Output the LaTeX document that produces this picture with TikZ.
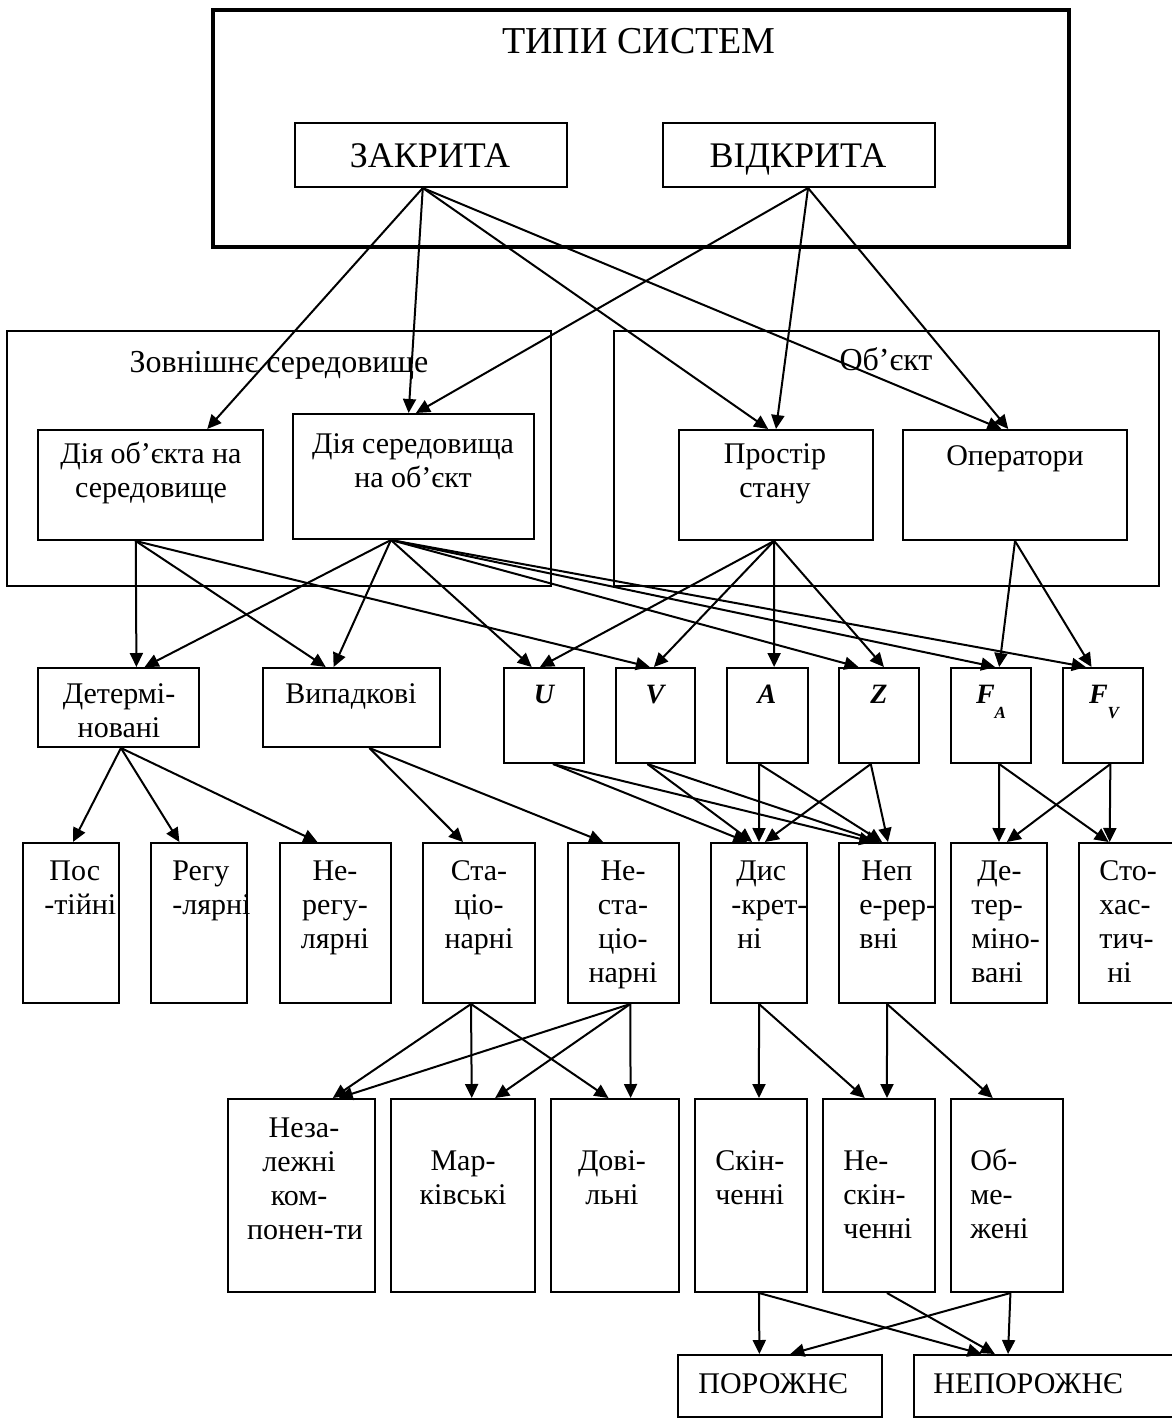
\documentclass[tikz,border=0pt]{standalone}
\usepackage{fontspec}
\setmainfont{Liberation Serif}
\usetikzlibrary{arrows.meta,calc,fit}
\newcommand\tctr[1]{\begin{tabular}[t]{@{}c@{}}#1\end{tabular}}
\newcommand\tlft[1]{\begin{tabular}[t]{@{}l@{}}#1\end{tabular}}
\newcommand\bx[6][]{\path (#3,#4) coordinate (#2-a) (#5,#6) coordinate (#2-b); \node[box,#1,fit=(#2-a)(#2-b)] (#2) {};}
\newcommand\conn[4]{\draw[arr] ($(#1.south west)!#2!(#1.south east)$) -- ($(#3.north west)!#4!(#3.north east)$);}
\begin{document}
\begin{tikzpicture}[x=0.5pt,y=-0.5pt,
 box/.style={draw,line width=1pt,inner sep=0pt},
 arr/.style={line width=1pt,-{Triangle[length=7pt,width=6.5pt]}},
 txt/.style={inner sep=0pt,font=\fontsize{15}{17}\selectfont},
 big/.style={inner sep=0pt,font=\fontsize{19}{22}\selectfont},
 varsym/.style={inner sep=0pt,font=\fontsize{14}{16}\selectfont\bfseries\itshape}]
\useasboundingbox (0,0) rectangle (1172,1419);
% boxes
\bx[line width=2.2pt]{outer}{213}{10}{1069}{247}
\bx{zak}{295}{123}{567}{187}
\bx{vid}{663}{123}{935}{187}
\bx{env}{7}{331}{551}{586}
\bx{obj}{614}{331}{1159}{586}
\bx{dob}{38}{430}{263}{540}
\bx{dse}{293}{414}{534}{539}
\bx{pst}{679}{430}{873}{540}
\bx{opr}{903}{430}{1127}{540}
\bx{det}{38}{668}{199}{747}
\bx{vyp}{263}{668}{440}{747}
\bx{U}{504}{668}{584}{763}
\bx{V}{616}{668}{695}{763}
\bx{A}{727}{668}{808}{763}
\bx{Z}{839}{668}{919}{763}
\bx{FA}{951}{668}{1031}{763}
\bx{FV}{1063}{668}{1143}{763}
\bx{pos}{23}{843}{119}{1003}
\bx{reg}{151}{843}{247}{1003}
\bx{nereg}{280}{843}{391}{1003}
\bx{stac}{423}{843}{535}{1003}
\bx{nestac}{568}{843}{679}{1003}
\bx{dys}{711}{843}{807}{1003}
\bx{nep}{839}{843}{935}{1003}
\bx{dter}{951}{843}{1047}{1003}
\bx{stoh}{1079}{843}{1176}{1003}
\bx{nez}{228}{1099}{375}{1292}
\bx{mark}{391}{1099}{535}{1292}
\bx{dov}{551}{1099}{679}{1292}
\bx{skin}{695}{1099}{807}{1292}
\bx{neskin}{823}{1099}{935}{1292}
\bx{obm}{951}{1099}{1063}{1292}
\bx{por}{678}{1355}{882}{1417}
\bx{nepor}{914}{1355}{1176}{1417}
% texts
\node[big,anchor=base] (t-outer) at (639,53) {ТИПИ СИСТЕМ};
\node[big,anchor=base,font=\fontsize{18}{21}\selectfont] (t-zak) at (430,167) {ЗАКРИТА};
\node[big,anchor=base,font=\fontsize{18}{21}\selectfont] (t-vid) at (798,167) {ВІДКРИТА};
\node[txt,anchor=base,font=\fontsize{16}{18}\selectfont] (t-env) at (279,372) {Зовнішнє середовище};
\node[txt,anchor=base,font=\fontsize{16}{18}\selectfont] (t-obj) at (886,370) {Об’єкт};
\node[txt,anchor=base] (t-dob) at (151,463) {\tctr{Дія об’єкта на\\середовище}};
\node[txt,anchor=base] (t-dse) at (413,453) {\tctr{Дія середовища\\на об’єкт}};
\node[txt,anchor=base] (t-pst) at (775,463) {\tctr{Простір\\стану}};
\node[txt,anchor=base] (t-opr) at (1015,465) {Оператори};
\node[txt,anchor=base] (t-det) at (119,703) {\tctr{Детермі-\\новані}};
\node[txt,anchor=base] (t-vyp) at (351,703) {Випадкові};
\node[varsym,anchor=base] (t-U) at (544,703) {U};
\node[varsym,anchor=base] (t-V) at (655,703) {V};
\node[varsym,anchor=base] (t-A) at (767,703) {A};
\node[varsym,anchor=base] (t-Z) at (879,703) {Z};
\node[varsym,anchor=base] (t-FA) at (991,703) {F\raisebox{-1.2ex}{\fontsize{8.5}{9}\selectfont A}};
\node[varsym,anchor=base] (t-FV) at (1104,703) {F\raisebox{-1.2ex}{\fontsize{8.5}{9}\selectfont V}};
\node[txt,anchor=base west] (t-pos) at (44,880) {\tlft{\,Пос\\-тійні}};
\node[txt,anchor=base west] (t-reg) at (172,880) {\tlft{Регу\\-лярні}};
\node[txt,anchor=base] (t-nereg) at (335,880) {\tctr{Не-\\регу-\\лярні}};
\node[txt,anchor=base] (t-stac) at (479,880) {\tctr{Ста-\\ціо-\\нарні}};
\node[txt,anchor=base] (t-nestac) at (623,880) {\tctr{Не-\\ста-\\ціо-\\нарні}};
\node[txt,anchor=base west] (t-dys) at (731,880) {\tlft{\,Дис\\-крет-\\\hspace{3pt}ні}};
\node[txt,anchor=base west] (t-nep) at (859,880) {\tlft{\hspace{1pt}Неп\\е-рер-\\вні}};
\node[txt,anchor=base west] (t-dter) at (971,880) {\tlft{\hspace{3pt}Де-\\тер-\\міно-\\вані}};
\node[txt,anchor=base west] (t-stoh) at (1099,880) {\tlft{Сто-\\хас-\\тич-\\\hspace{4pt}ні}};
\node[txt,anchor=base] (t-nez) at (299,1137) {\tctr{\hspace{5pt}Неза-\\лежні\\ком-\\\hspace{6pt}понен-ти}};
\node[txt,anchor=base] (t-mark) at (463,1170) {\tctr{Мар-\\ківські}};
\node[txt,anchor=base] (t-dov) at (612,1170) {\tctr{Дові-\\льні}};
\node[txt,anchor=base west] (t-skin) at (715,1170) {\tlft{Скін-\\ченні}};
\node[txt,anchor=base west] (t-neskin) at (843,1170) {\tlft{Не-\\скін-\\ченні}};
\node[txt,anchor=base west] (t-obm) at (970,1170) {\tlft{Об-\\ме-\\жені}};
\node[txt,anchor=base west] (t-por) at (698,1393) {ПОРОЖНЄ};
\node[txt,anchor=base west] (t-nepor) at (933,1393) {НЕПОРОЖНЄ};
% connectors: top level
\conn{zak}{0.47}{dob}{0.75}
\conn{zak}{0.47}{dse}{0.48}
\conn{zak}{0.47}{pst}{0.46}
\conn{zak}{0.47}{opr}{0.44}
\conn{vid}{0.533}{dse}{0.51}
\conn{vid}{0.533}{pst}{0.5}
\conn{vid}{0.533}{opr}{0.47}
% second level
\conn{dob}{0.435}{det}{0.61}
\conn{dob}{0.435}{vyp}{0.356}
\conn{dob}{0.435}{V}{0.43}
\conn{dse}{0.407}{det}{0.66}
\conn{dse}{0.407}{vyp}{0.40}
\conn{dse}{0.407}{U}{0.35}
\conn{dse}{0.407}{Z}{0.25}
\conn{dse}{0.407}{FA}{0.55}
\conn{dse}{0.407}{FV}{0.29}
\conn{pst}{0.49}{U}{0.45}
\conn{pst}{0.49}{V}{0.48}
\conn{pst}{0.49}{A}{0.58}
\conn{pst}{0.49}{Z}{0.56}
\conn{opr}{0.5}{FA}{0.6}
\conn{opr}{0.5}{FV}{0.36}
% third level
\conn{det}{0.515}{pos}{0.52}
\conn{det}{0.515}{reg}{0.3}
\conn{det}{0.515}{nereg}{0.34}
\conn{vyp}{0.6}{stac}{0.36}
\conn{vyp}{0.6}{nestac}{0.32}
\conn{U}{0.61}{dys}{0.38}
\conn{U}{0.61}{nep}{0.36}
\conn{V}{0.4}{dys}{0.43}
\conn{V}{0.4}{nep}{0.43}
\conn{A}{0.4}{dys}{0.5}
\conn{A}{0.4}{nep}{0.45}
\conn{Z}{0.4}{dys}{0.56}
\conn{Z}{0.4}{nep}{0.51}
\conn{FA}{0.6}{dter}{0.5}
\conn{FA}{0.6}{stoh}{0.31}
\conn{FV}{0.59}{stoh}{0.32}
\conn{FV}{0.59}{dter}{0.58}
% fourth level
\conn{stac}{0.43}{nez}{0.71}
\conn{stac}{0.43}{mark}{0.56}
\conn{stac}{0.43}{dov}{0.45}
\conn{nestac}{0.56}{nez}{0.75}
\conn{nestac}{0.56}{mark}{0.72}
\conn{nestac}{0.56}{dov}{0.62}
\conn{dys}{0.5}{skin}{0.57}
\conn{dys}{0.5}{neskin}{0.375}
\conn{nep}{0.5}{neskin}{0.57}
\conn{nep}{0.5}{obm}{0.375}
% bottom level
\conn{skin}{0.57}{por}{0.4}
\conn{skin}{0.57}{nepor}{0.26}
\conn{neskin}{0.57}{nepor}{0.31}
\conn{obm}{0.53}{nepor}{0.36}
\conn{obm}{0.53}{por}{0.55}
\end{tikzpicture}
\end{document}
